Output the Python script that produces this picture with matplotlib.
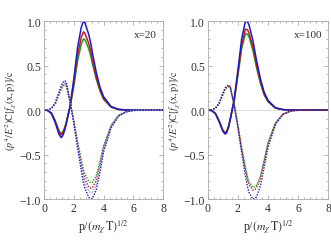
import numpy as np
import matplotlib
matplotlib.use("Agg")
import matplotlib.pyplot as plt
from matplotlib.ticker import MultipleLocator

plt.rcParams['font.family'] = ['Liberation Serif', 'DejaVu Serif']
plt.rcParams['mathtext.fontset'] = 'stix'

p = [0, 0.25, 0.5, 0.75, 1.0, 1.15, 1.25, 1.4, 1.5, 1.75, 2.0, 2.25, 2.5, 2.65,
     2.75, 3.0, 3.15, 3.25, 3.5, 3.75, 4.0, 4.5, 5.0, 5.5, 6.0, 7.0, 8.0]

# x = 20 panel
s20_blue  = [0, -0.005, -0.04, -0.14, -0.27, -0.31, -0.29, -0.22, -0.15, 0.05, 0.35, 0.70, 0.93, 1.00,
             0.98, 0.85, 0.74, 0.64, 0.43, 0.26, 0.15, 0.04, 0.008, 0.001, 0, 0, 0]
s20_red   = [0, -0.005, -0.035, -0.125, -0.24, -0.28, -0.265, -0.20, -0.14, 0.04, 0.30, 0.61, 0.82, 0.88,
             0.86, 0.75, 0.65, 0.56, 0.38, 0.23, 0.13, 0.035, 0.007, 0.001, 0, 0, 0]
s20_green = [0, -0.004, -0.033, -0.12, -0.23, -0.265, -0.25, -0.19, -0.13, 0.03, 0.27, 0.55, 0.74, 0.80,
             0.79, 0.69, 0.60, 0.52, 0.35, 0.22, 0.12, 0.033, 0.007, 0.001, 0, 0, 0]
d20_blue  = [0, 0.003, 0.02, 0.08, 0.20, 0.27, 0.31, 0.33, 0.31, 0.10, -0.15, -0.42, -0.68, -0.82,
             -0.88, -0.98, -1.00, -0.99, -0.90, -0.70, -0.47, -0.20, -0.07, -0.02, -0.004, 0, 0]
d20_lblue = [0, 0.003, 0.019, 0.075, 0.19, 0.25, 0.29, 0.31, 0.29, 0.09, -0.14, -0.39, -0.63, -0.76,
             -0.82, -0.91, -0.93, -0.92, -0.84, -0.65, -0.44, -0.19, -0.065, -0.02, -0.004, 0, 0]
d20_red   = [0, 0.003, 0.018, 0.07, 0.18, 0.24, 0.28, 0.295, 0.28, 0.09, -0.13, -0.37, -0.60, -0.72,
             -0.78, -0.86, -0.88, -0.87, -0.79, -0.62, -0.42, -0.18, -0.06, -0.02, -0.004, 0, 0]
d20_green = [0, 0.003, 0.017, 0.065, 0.17, 0.23, 0.265, 0.28, 0.27, 0.09, -0.12, -0.35, -0.56, -0.67,
             -0.72, -0.80, -0.82, -0.81, -0.74, -0.58, -0.40, -0.17, -0.06, -0.02, -0.004, 0, 0]

# x = 100 panel
s100_blue  = [0, -0.005, -0.04, -0.13, -0.24, -0.27, -0.255, -0.18, -0.10, 0.12, 0.45, 0.80, 1.00, 0.99,
              0.95, 0.78, 0.64, 0.55, 0.35, 0.20, 0.11, 0.025, 0.005, 0.001, 0, 0, 0]
s100_red   = [0, -0.005, -0.038, -0.125, -0.23, -0.26, -0.245, -0.17, -0.095, 0.11, 0.41, 0.73, 0.91, 0.90,
              0.86, 0.71, 0.58, 0.50, 0.32, 0.18, 0.10, 0.023, 0.005, 0.001, 0, 0, 0]
s100_green = [0, -0.005, -0.037, -0.12, -0.225, -0.255, -0.24, -0.17, -0.09, 0.10, 0.39, 0.69, 0.86, 0.85,
              0.82, 0.67, 0.55, 0.47, 0.30, 0.17, 0.095, 0.022, 0.005, 0.001, 0, 0, 0]
d100_blue  = [0, 0.003, 0.02, 0.08, 0.19, 0.25, 0.27, 0.28, 0.26, 0.06, -0.20, -0.48, -0.74, -0.87,
              -0.93, -1.00, -0.99, -0.97, -0.85, -0.64, -0.42, -0.16, -0.05, -0.012, -0.002, 0, 0]
d100_red   = [0, 0.003, 0.019, 0.075, 0.18, 0.24, 0.26, 0.27, 0.25, 0.06, -0.18, -0.44, -0.67, -0.79,
              -0.84, -0.90, -0.89, -0.87, -0.77, -0.58, -0.38, -0.15, -0.045, -0.011, -0.002, 0, 0]
d100_green = [0, 0.003, 0.018, 0.07, 0.17, 0.23, 0.25, 0.26, 0.24, 0.06, -0.17, -0.42, -0.64, -0.76,
              -0.81, -0.87, -0.86, -0.84, -0.74, -0.56, -0.37, -0.14, -0.045, -0.011, -0.002, 0, 0]

x_ticks = [0, 2, 4, 6, 8]
y_ticks = [-1.0, -0.5, 0.0, 0.5, 1.0]
panel_labels = ["x=20", "x=100"]

BLUE = '#1a1acc'
LBLUE = '#9a9af0'
RED = '#cc1a1a'
GREEN = '#1aa01a'

fig = plt.figure(figsize=(3.31, 2.51), dpi=100)
axes = [fig.add_axes([0.133, 0.203, 0.36, 0.709]),
        fig.add_axes([0.628, 0.203, 0.363, 0.709])]

pp = np.array(p)
panels = [
    ([(s20_green, GREEN), (s20_red, RED), (s20_blue, BLUE)],
     [(d20_green, GREEN), (d20_red, RED), (d20_lblue, LBLUE), (d20_blue, BLUE)]),
    ([(s100_green, GREEN), (s100_red, RED), (s100_blue, BLUE)],
     [(d100_green, GREEN), (d100_red, RED), (d100_blue, BLUE)]),
]

for ax, (solids, dots), lab in zip(axes, panels, panel_labels):
    ax.axhline(0, color='#dddddd', lw=0.8, zorder=0)
    for vals, c in solids:
        ax.plot(pp, vals, color=c, lw=1.1)
    for vals, c in dots:
        ax.plot(pp, vals, color=c, lw=1.0, ls=(0, (1, 1)))
    ax.set_xlim(0, 8)
    ax.set_ylim(-1.0, 1.0)
    ax.set_xticks(x_ticks)
    ax.set_yticks(y_ticks)
    ax.set_xticklabels([str(t) for t in x_ticks])
    ax.set_yticklabels(['%.1f' % t if t >= 0 else '\u2212%.1f' % -t for t in y_ticks])
    ax.xaxis.set_minor_locator(MultipleLocator(0.4))
    ax.yaxis.set_minor_locator(MultipleLocator(0.1))
    ax.tick_params(which='both', direction='in', top=True, right=True, colors='#999999',
                   labelcolor='#333333', labelsize=8.5, width=0.5, pad=2)
    ax.tick_params(which='major', length=3)
    ax.tick_params(which='minor', length=1.5)
    for s in ax.spines.values():
        s.set_color('#aaaaaa')
        s.set_linewidth(0.6)
    ax.text(0.95, 0.95, lab, transform=ax.transAxes, ha='right', va='top', fontsize=8, color='#333333')
    ax.set_xlabel(r'p/$(m_\chi\,\mathrm{T})^{1/2}$', fontsize=8.5, color='#333333', labelpad=3)
    ax.set_ylabel(r'$(p^4/E^2)\mathrm{C}[f_\chi(\mathrm{x,p})]/\mathrm{c}$', fontsize=7.3, color='#333333')
    ax.yaxis.set_label_coords(-0.215, 0.5)

fig.savefig('out.png', dpi=100)
